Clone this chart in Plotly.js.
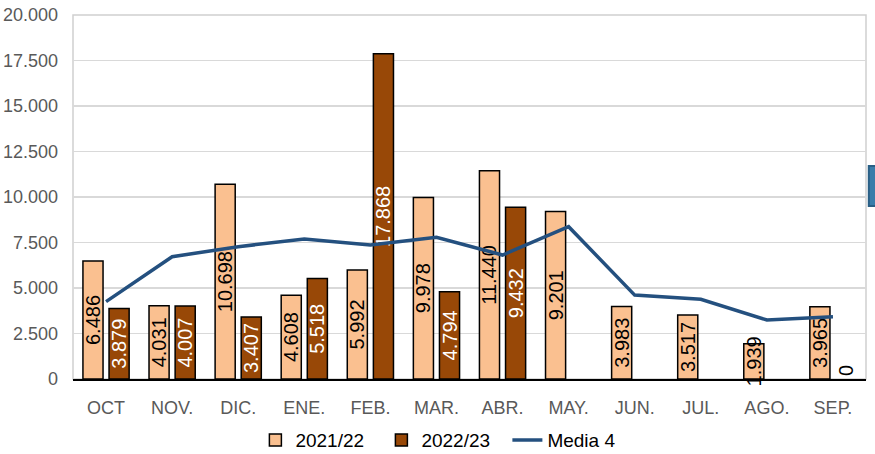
<!DOCTYPE html>
<html>
<head>
<meta charset="utf-8">
<script src="https://cdn.plot.ly/plotly-3.0.1.min.js"></script>
<style>html,body{margin:0;padding:0;background:#fff;}#chart{width:875px;height:454px;}</style>
</head>
<body>
<div id="chart"></div>
<script>
const months = ["OCT","NOV.","DIC.","ENE.","FEB.","MAR.","ABR.","MAY.","JUN.","JUL.","AGO.","SEP."];
const season2122 = [6486,4031,10698,4608,5992,9978,11440,9201,3983,3517,1939,3965];
const season2223 = [3879,4007,3407,5518,17868,4794,9432,0,0,0,0,0];
const media4 = [4250,6720,7270,7690,7360,7790,6810,8370,4610,4380,3240,3420];
const yTicks = [0,2500,5000,7500,10000,12500,15000,17500,20000];

const F = "Liberation Sans, Arial, sans-serif";

const pos2223 = season2223.map(v => v === 0 ? "outside" : "inside");
const col2223 = season2223.map((v,i) => v === 0 ? (i === season2223.length-1 ? "#000000" : "#ffffff") : "#ffffff");
const lw2223 = season2223.map(v => v === 0 ? 0 : 1.5);

const traces = [
  {
    type: "bar", name: "2021/22", x: months, y: season2122,
    marker: {color: "#FAC090", line: {color: "#000000", width: 1.5}},
    texttemplate: "%{y:,}", textposition: "inside", insidetextanchor: "middle",
    textangle: -90, constraintext: "none", cliponaxis: false,
    textfont: {family: F, size: 20, color: "#000000"},
    hoverinfo: "skip"
  },
  {
    type: "bar", name: "2022/23", x: months, y: season2223,
    marker: {color: "#984807", line: {color: "#000000", width: lw2223}},
    texttemplate: "%{y:,}", textposition: pos2223, insidetextanchor: "middle",
    textangle: -90, constraintext: "none", cliponaxis: false,
    textfont: {family: F, size: 20, color: col2223},
    hoverinfo: "skip"
  },
  {
    type: "scatter", mode: "lines", name: "Media 4", x: months, y: media4,
    line: {color: "#24507F", width: 3.5},
    hoverinfo: "skip"
  }
];

const layout = {
  width: 875, height: 454,
  margin: {l: 73, r: 9, t: 15, b: 75, autoexpand: false},
  paper_bgcolor: "#ffffff", plot_bgcolor: "#ffffff",
  separators: ",.",
  font: {family: F, size: 18, color: "#595959"},
  barmode: "group", bargap: 0.21, bargroupgap: 0.23,
  showlegend: true,
  legend: {
    orientation: "h", x: 0.23, xanchor: "left", y: -0.168, yanchor: "middle",
    font: {family: F, size: 19, color: "#000000"},
    traceorder: "normal", itemwidth: 30,
    entrywidth: 81, entrywidthmode: "pixels"
  },
  xaxis: {
    type: "category", showgrid: false, showline: true, linecolor: "#000000", linewidth: 1.5,
    ticks: "", ticklabelstandoff: 12,
    tickfont: {family: F, size: 18, color: "#595959"}
  },
  yaxis: {
    range: [0, 20000], tickvals: yTicks, tickformat: ",d",
    showgrid: true, gridcolor: "#D9D9D9", gridwidth: 1.5,
    zeroline: false, showline: false, ticks: "", ticklabelstandoff: 14,
    tickfont: {family: F, size: 18, color: "#595959"}
  },
  shapes: [
    {type: "rect", xref: "paper", yref: "paper", x0: 0, x1: 1, y0: 0, y1: 1,
     line: {color: "#D0D0D0", width: 1.5}, layer: "below"},
    {type: "rect", xref: "paper", yref: "paper", x0: 1.0035, x1: 1.013, y0: 0.475, y1: 0.585,
     fillcolor: "#3A7DAA", line: {color: "#2A5F85", width: 2}, layer: "above"}
  ]
};

Plotly.newPlot("chart", traces, layout, {displayModeBar: false, staticPlot: true});
</script>
</body>
</html>
